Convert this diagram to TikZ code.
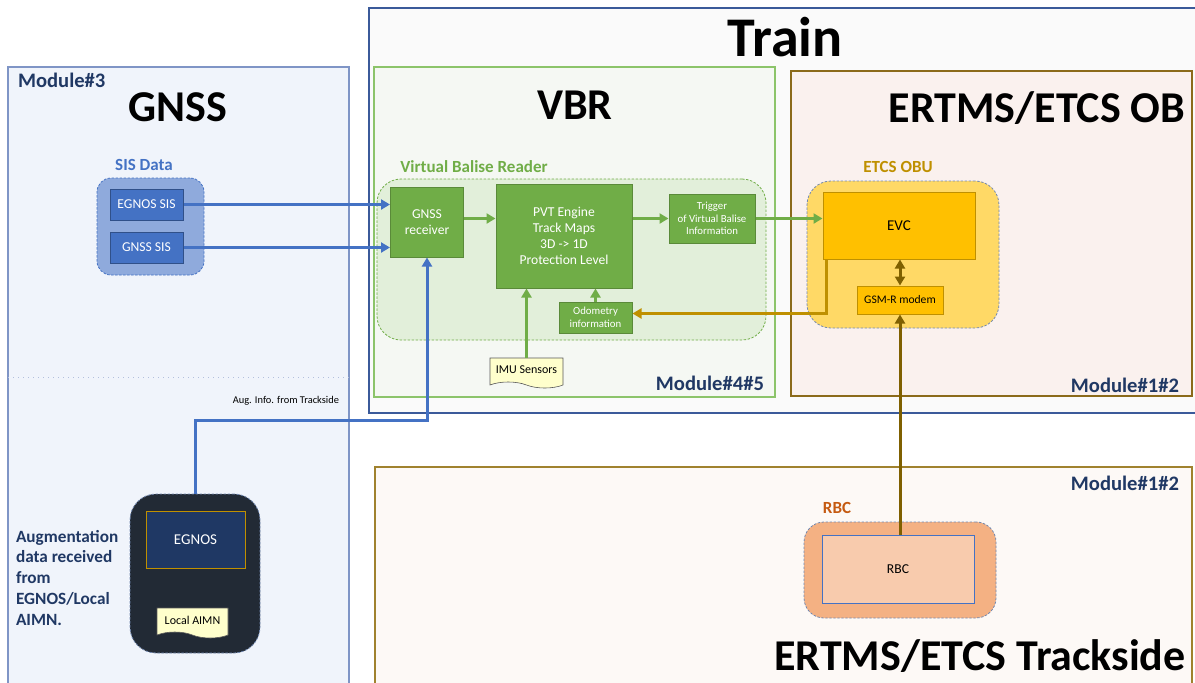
\documentclass[tikz,border=0pt]{standalone}
\usepackage{fontspec}
\setmainfont{Carlito}
\usepackage{xcolor}
\usepackage{tikz}
\usetikzlibrary{arrows.meta,shapes.symbols}

\definecolor{navy}{HTML}{203864}
\definecolor{sisblue}{HTML}{4472C4}
\definecolor{sisback}{HTML}{8FAADC}
\definecolor{vgreen}{HTML}{70AD47}
\definecolor{vback}{HTML}{E2EFDA}
\definecolor{obuyel}{HTML}{FFC000}
\definecolor{obuback}{HTML}{FFD966}
\definecolor{obgold}{HTML}{BF9000}
\definecolor{obbrown}{HTML}{7F6000}
\definecolor{rbcback}{HTML}{F4B183}
\definecolor{rbcfill}{HTML}{F8CBAD}
\definecolor{rbcorange}{HTML}{C55A11}
\definecolor{egdark}{HTML}{222A35}
\definecolor{egfill}{HTML}{1F3864}
\definecolor{notefill}{HTML}{FFFFCC}
\definecolor{mline}{HTML}{7F95C6}
\definecolor{mback}{HTML}{F0F4FB}
\definecolor{trline}{HTML}{3B5A9A}
\definecolor{trback}{HTML}{FAFAFA}
\definecolor{vline}{HTML}{8CC46A}
\definecolor{vbback}{HTML}{F5F8F3}
\definecolor{obline}{HTML}{8B6A1A}
\definecolor{obback}{HTML}{FAF1EE}
\definecolor{tsline}{HTML}{A0822E}
\definecolor{tsback}{HTML}{FDF9F6}

\begin{document}
\begin{tikzpicture}[x=0.5pt, y=-0.5pt,
  title/.style={font=\bfseries\fontsize{22}{24}\selectfont},
  modlbl/.style={font=\bfseries\fontsize{10.3}{12}\selectfont, text=navy},
  grplbl/.style={font=\bfseries\fontsize{8.5}{10}\selectfont},
  grp/.style={draw=#1, dash pattern=on 1.2pt off 0.8pt, line width=0.4pt, inner sep=0pt},
  blk/.style={draw=#1, line width=0.5pt, align=center, inner sep=1pt, font=\fontsize{6.8}{7.9}\selectfont},
  docnote/.style={tape, tape bend top=none, tape bend bottom=out and in, tape bend height=3pt, draw=gray!70!black, line width=0.3pt, fill=notefill, font=\fontsize{6}{7}\selectfont, minimum width=36.5pt, minimum height=15pt, inner sep=1pt},
  conn/.style={draw=#1, line width=1.5pt, -{Triangle[length=4.5pt,width=5pt]}}
]
\useasboundingbox (0,0) rectangle (1195,682);

\draw[draw=mline, fill=mback, line width=0.7pt] (8,67) rectangle (349,700);
\draw[draw=mline!60, dotted, line width=0.5pt] (8,377) -- (349,377);
\draw[draw=trline, fill=trback, line width=0.6pt] (369,8) rectangle (1200,413);
\draw[draw=vline, fill=vbback, line width=0.8pt] (374,67) rectangle (775,397);
\draw[draw=obline, fill=obback, line width=0.9pt] (791,71) rectangle (1192,396);
\draw[draw=tsline, fill=tsback, line width=0.9pt] (375,467) rectangle (1192,700);

\node[grp=sisblue, fill=sisback, rounded corners=7pt, minimum width=53.5pt, minimum height=48.5pt] (sis) at (150.5,226.5) {};
\node[blk=sisblue!70!black, fill=sisblue, text=white, minimum width=36.5pt, minimum height=15.5pt] (es) at (146.5,204.5) {EGNOS SIS};
\node[blk=sisblue!70!black, fill=sisblue, text=white, minimum width=36.5pt, minimum height=15.5pt] (gs) at (146.5,247.5) {GNSS SIS};
\node[grplbl, text=sisblue] (sisl) at (144,165) {SIS Data};

\node[grp=vgreen, fill=vback, rounded corners=12pt, minimum width=194.5pt, minimum height=80.5pt] (vbg) at (571.5,259.5) {};
\node[blk=vgreen!80!black, fill=vgreen, text=white, minimum width=36.5pt, minimum height=35pt] (rx) at (427,222) {GNSS\\receiver};
\node[blk=vgreen!80!black, fill=vgreen, text=white, minimum width=68pt, minimum height=52pt] (pvt) at (564,236) {PVT Engine\\Track Maps\\3D -> 1D\\Protection Level};
\node[blk=vgreen!80!black, fill=vgreen, text=white, minimum width=43pt, minimum height=24.5pt, font=\fontsize{5.4}{6.3}\selectfont] (trg) at (712,218.5) {Trigger\\of Virtual Balise\\Information};
\node[blk=vgreen!80!black, fill=vgreen, text=white, minimum width=36.5pt, minimum height=15.5pt, font=\fontsize{5.4}{6.3}\selectfont] (odo) at (595.5,317.5) {Odometry\\information};
\node[docnote] (imu) at (526.5,370) {IMU Sensors};
\node[grplbl, text=vgreen] (vbrl) at (474,167) {Virtual Balise Reader};

\node[grp=sisback!80!black, fill=obuback, rounded corners=12pt, minimum width=96pt, minimum height=73.5pt] (obu) at (903,254.5) {};
\node[blk=obgold, fill=obuyel, minimum width=76pt, minimum height=33.5pt, font=\fontsize{7.5}{9}\selectfont] (evc) at (899,225.5) {EVC};
\node[blk=obgold, fill=obuyel, minimum width=43pt, minimum height=14pt, font=\fontsize{5.8}{7}\selectfont] (gsm) at (900,300) {GSM-R modem};
\node[grplbl, text=obgold] (obul) at (898,167) {ETCS OBU};

\node[grp=sisback!80!black, fill=rbcback, rounded corners=10pt, minimum width=96pt, minimum height=48pt] (rbcg) at (900,570) {};
\node[blk=sisblue, fill=rbcfill, minimum width=76pt, minimum height=34pt] (rbc) at (898,569) {RBC};
\node[grplbl, text=rbcorange] (rbcl) at (837,508) {RBC};

\node[grp=sisback!80!black, fill=egdark, rounded corners=13pt, minimum width=65pt, minimum height=79.5pt] (egg) at (195,573.5) {};
\node[blk=obgold, fill=egfill, text=white, minimum width=49.5pt, minimum height=28.5pt, font=\fontsize{7.5}{9}\selectfont] (egn) at (195.5,539.5) {EGNOS};
\node[docnote, minimum width=35.5pt] (aimn) at (192.5,620) {Local AIMN};

\node[modlbl, anchor=west] (m3) at (11,80) {Module\#3};
\node[title] (gnss) at (178,107) {GNSS};
\node[title, font=\bfseries\fontsize{28}{30}\selectfont] (train) at (785,37) {Train};
\node[title] (vbr) at (575,105) {VBR};
\node[modlbl, anchor=east] (m45) at (771,383) {Module\#4\#5};
\node[title] (ob) at (1037,108) {ERTMS/ETCS OB};
\node[modlbl, anchor=east] (m12a) at (1186,385) {Module\#1\#2};
\node[modlbl, anchor=east] (m12b) at (1186,483) {Module\#1\#2};
\node[title] (ts) at (980,656) {ERTMS/ETCS Trackside};
\node[font=\bfseries\fontsize{8.6}{10.4}\selectfont, text=navy, align=left, anchor=north west] (aug) at (9,523) {Augmentation\\data received\\from\\EGNOS/Local\\AIMN.};

\coordinate (k1) at (0,420);
\draw[conn=sisblue] (es.east) -- (es.east -| rx.west);
\draw[conn=sisblue] (gs.east) -- (gs.east -| rx.west);
\draw[conn=sisblue] (egg.north) |- (k1 -| rx.south) -- (rx.south);
\node[font=\fontsize{5.2}{6}\selectfont, anchor=south east] (augl) at (346,412) {Aug. Info. from Trackside};

\draw[conn=vgreen] (rx.east |- trg) -- (pvt.west |- trg);
\draw[conn=vgreen] (pvt.east |- trg) -- (trg.west);
\draw[conn=vgreen] (trg.east) -- (trg.east -| evc.west);
\draw[conn=vgreen] (imu.north) -- (imu.north |- pvt.south);
\draw[conn=vgreen] (odo.north) -- (odo.north |- pvt.south);

\draw[conn=obgold] ([xshift=2pt]evc.south west) |- ([yshift=2pt]odo.east);
\draw[draw=obbrown, line width=1.5pt, {Triangle[length=4.5pt,width=5pt]}-{Triangle[length=4.5pt,width=5pt]}] (evc.south -| gsm.north) -- (gsm.north);
\draw[conn=obbrown] (gsm.south |- rbc.north) -- (gsm.south);
\end{tikzpicture}
\end{document}
